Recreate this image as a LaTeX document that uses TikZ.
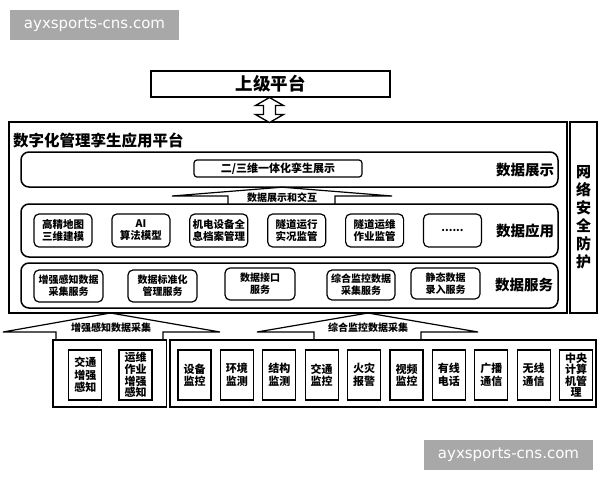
\documentclass[tikz,border=0pt]{standalone}
\usepackage{fontspec}
\setmainfont{Noto Sans CJK SC}
\newfontfamily\wmfont{DejaVu Sans}
\begin{document}
\begin{tikzpicture}[x=1pt,y=-1pt,
  every node/.style={inner sep=0pt, outer sep=0pt, font=\bfseries},
  frame/.style={draw, line width=1.8pt},
  panel/.style={draw, line width=1.5pt, rounded corners=8pt},
  item/.style={draw, line width=1.2pt, rounded corners=5pt, align=center, font=\bfseries\fontsize{10.5}{12}\selectfont},
  sitem/.style={draw, line width=1.2pt, rounded corners=5pt, align=center, font=\bfseries\fontsize{10}{12}\selectfont},
  bitem/.style={draw, line width=1.2pt, align=center, minimum width=33pt, minimum height=50pt, font=\bfseries\fontsize{11}{12.5}\selectfont},
  layerlabel/.style={font=\bfseries\fontsize{14.5}{16}\selectfont},
  rooflabel/.style={font=\bfseries\fontsize{10}{12}\selectfont},
  roof/.style={draw, line width=1.2pt, line join=miter},
  wmbox/.style={fill=black!34, text=white, minimum width=169pt, minimum height=30pt, font=\wmfont\mdseries\fontsize{15}{17}\selectfont}
]
\useasboundingbox (0,0) rectangle (600,480);

% watermarks
\node[wmbox] (wm1) at (94.5,25) {ayxsports-cns.com};
\node[wmbox] (wm2) at (508.5,455) {ayxsports-cns.com};

% upper platform
\node[frame, line width=1.5pt, minimum width=239pt, minimum height=26pt, font=\bfseries\fontsize{17.5}{19}\selectfont] (upper) at (270.5,84) {上级平台};

% main frame and security
\node[frame, minimum width=558pt, minimum height=191pt] (main) at (288,217.5) {};
\node[frame, minimum width=27pt, minimum height=191pt, align=center, font=\bfseries\fontsize{15}{18}\selectfont] (sec) at (583.5,217.5) {网\\络\\安\\全\\防\\护};

% double arrow between upper and main
\draw[line width=1.3pt, fill=white, line join=miter]
  (269.5,97.5) -- (283.5,105.5) -- (275.5,105.5) -- (275.5,114.5) -- (283.5,114.5)
  -- (269.5,122.5) -- (255.5,114.5) -- (263.5,114.5) -- (263.5,105.5) -- (255.5,105.5) -- cycle;

\node[anchor=west, font=\bfseries\fontsize{15.5}{18}\selectfont] (title) at (13,140) {数字化管理孪生应用平台};

% display layer
\node[panel, minimum width=537pt, minimum height=35pt] (pshow) at (289.5,169.5) {};
\node[draw, line width=1.2pt, rounded corners=3pt, minimum width=168pt, minimum height=17pt, font=\bfseries\fontsize{11}{12}\selectfont] (twin) at (278,168.5) {二/三维一体化孪生展示};
\node[layerlabel] (lshow) at (525,170) {数据展示};

% application layer
\node[panel, minimum width=537pt, minimum height=53pt] (papp) at (289.5,230.5) {};
\node[item, minimum width=58pt, minimum height=33pt] (a1) at (63,230.5) {高精地图\\三维建模};
\node[item, minimum width=58pt, minimum height=33pt] (a2) at (140.9,230.5) {AI\\算法模型};
\node[item, minimum width=58pt, minimum height=33pt] (a3) at (218.8,230.5) {机电设备全\\息档案管理};
\node[item, minimum width=58pt, minimum height=33pt] (a4) at (296.7,230.5) {隧道运行\\实况监管};
\node[item, minimum width=58pt, minimum height=33pt] (a5) at (374.6,230.5) {隧道运维\\作业监管};
\node[item, minimum width=58pt, minimum height=33pt] (a6) at (452.5,230.5) {......};
\node[layerlabel] (lapp) at (525,231) {数据应用};

% roof between display and application
\coordinate (r1a) at (282,187.2);
\draw[roof] (papp.north -| 228,0) -- (228,196) -- (172,196) -- (r1a) -- (392,196) -- (335,196) -- (papp.north -| 335,0);
\node[rooflabel] (rshow) at (282,197.5) {数据展示和交互};

% service layer
\node[panel, minimum width=537pt, minimum height=45pt] (psrv) at (289.5,285.5) {};
\node[sitem, minimum width=69pt, minimum height=32pt] (s1) at (68.5,286) {增强感知数据\\采集服务};
\node[sitem, minimum width=69pt, minimum height=32pt] (s2) at (162.5,286) {数据标准化\\管理服务};
\node[sitem, minimum width=70pt, minimum height=32pt] (s3) at (260,284) {数据接口\\服务};
\node[sitem, minimum width=68pt, minimum height=30pt] (s4) at (361,285) {综合监控数据\\采集服务};
\node[sitem, minimum width=69pt, minimum height=31pt] (s5) at (445.5,283.5) {静态数据\\录入服务};
\node[layerlabel] (lsrv) at (524,285) {数据服务};

% bottom boxes
\node[frame, line width=1.5pt, minimum width=113.5pt, minimum height=67pt] (bleft) at (109.75,373.5) {};
\node[frame, line width=1.5pt, minimum width=426pt, minimum height=67pt] (bright) at (383,373.5) {};

\node[bitem, minimum height=50pt] (e1) at (85.25,375) {交通\\增强\\感知};
\node[bitem, minimum height=50pt, font=\bfseries\fontsize{11}{11.7}\selectfont] (e2) at (135.5,375) {运维\\作业\\增强\\感知};

\node[bitem] (m1) at (194.5,375) {设备\\监控};
\node[bitem] (m2) at (236.9,375) {环境\\监测};
\node[bitem] (m3) at (279.3,375) {结构\\监测};
\node[bitem] (m4) at (321.7,375) {交通\\监控};
\node[bitem] (m5) at (364.1,375) {火灾\\报警};
\node[bitem] (m6) at (406.5,375) {视频\\监控};
\node[bitem] (m7) at (448.9,375) {有线\\电话};
\node[bitem] (m8) at (491.3,375) {广播\\通信};
\node[bitem] (m9) at (533.7,375) {无线\\通信};
\node[bitem, font=\bfseries\fontsize{11}{11.5}\selectfont] (m10) at (576.1,375) {中央\\计算\\机管\\理};

% roofs from bottom boxes up to main
\coordinate (r2a) at (main.south -| 110.5,0);
\coordinate (r3a) at (main.south -| 368,0);
\draw[roof] (bleft.north -| 56,0) -- (56,332) -- (3,332) -- (r2a) -- (220,332) -- (163,332) -- (bleft.north -| 163,0);
\node[rooflabel] (rleft) at (111,327.5) {增强感知数据采集};
\draw[roof] (bright.north -| 314,0) -- (314,332) -- (257,332) -- (r3a) -- (478,332) -- (421,332) -- (bright.north -| 421,0);
\node[rooflabel] (rright) at (368,327.5) {综合监控数据采集};
\end{tikzpicture}
\end{document}
